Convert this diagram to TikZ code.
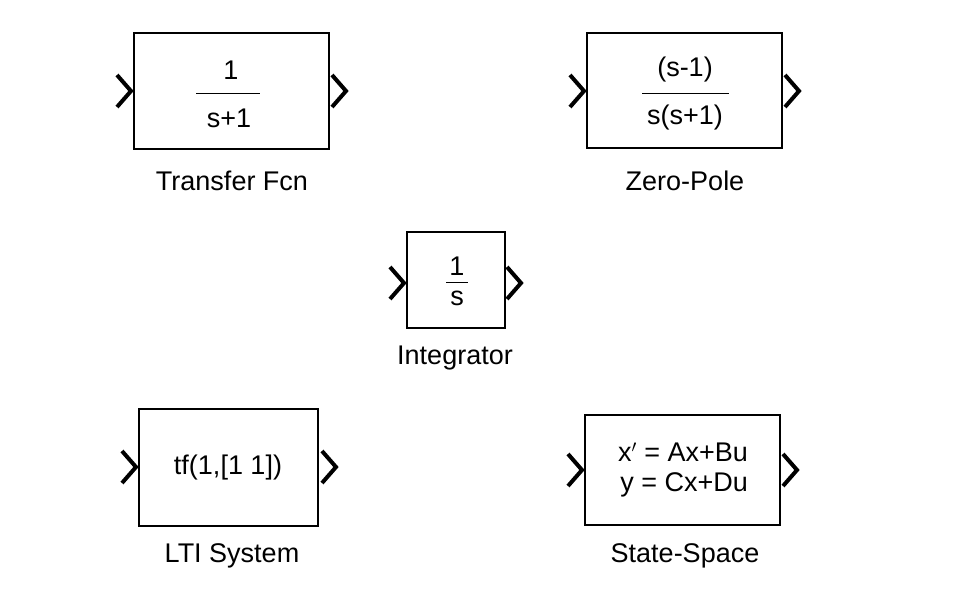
\documentclass[tikz,border=0pt]{standalone}
\usepackage{fontspec}
\setmainfont{Liberation Sans}
\begin{document}
\begin{tikzpicture}[x=1pt,y=-1pt,
  blk/.style={draw,line width=1.3pt,fill=white},
  txt/.style={font=\fontsize{27}{30}\selectfont,inner sep=0pt},
  lbl/.style={font=\fontsize{27}{30}\selectfont,inner sep=0pt},
  chev/.style={line width=4pt,miter limit=10}]
\useasboundingbox (0,0) rectangle (978,595);
\newcommand{\chevr}[2]{\draw[chev] (#1-7,#2-16) -- (#1+7,#2) -- (#1-7,#2+16);}
% Transfer Fcn
\draw[blk] (134,33) rectangle (329,149);
\node[txt] (tfn) at (231,70) {1};
\draw[line width=1pt] (196,93) -- (260,93);
\node[txt] (tfd) at (229,118) {s+1};
\node[lbl] (tfl) at (232,181) {Transfer Fcn};
\chevr{124}{91}\chevr{339}{91}
% Zero-Pole
\draw[blk] (587,33) rectangle (782,148);
\node[txt] (zpn) at (685,70) {(s-1)};
\draw[line width=1pt] (642,93) -- (729,93);
\node[txt] (zpd) at (685,118) {s(s+1)};
\node[lbl] (zpl) at (685,181) {Zero-Pole};
\chevr{577}{91}\chevr{792}{91}
% Integrator
\draw[blk] (407,232) rectangle (505,328);
\node[txt] (inn) at (457,266) {1};
\draw[line width=1pt] (446,282) -- (468,282);
\node[txt] (ind) at (457,298) {s};
\node[lbl] (inl) at (455,358) {Integrator};
\chevr{397}{283}\chevr{514}{283}
% LTI
\draw[blk] (139,409) rectangle (318,526);
\node[txt] (lti) at (228,468) {tf(1,[1 1])};
\node[lbl] (ltil) at (232,556) {LTI System};
\chevr{129}{467}\chevr{329}{467}
% State-Space
\draw[blk] (585,415) rectangle (780,525);
\node[txt,align=right] (ss) at (683,470) {x$'$ = Ax+Bu\\y = Cx+Du};
\node[lbl] (ssl) at (685,556) {State-Space};
\chevr{575}{470}\chevr{790}{470}
\end{tikzpicture}
\end{document}
